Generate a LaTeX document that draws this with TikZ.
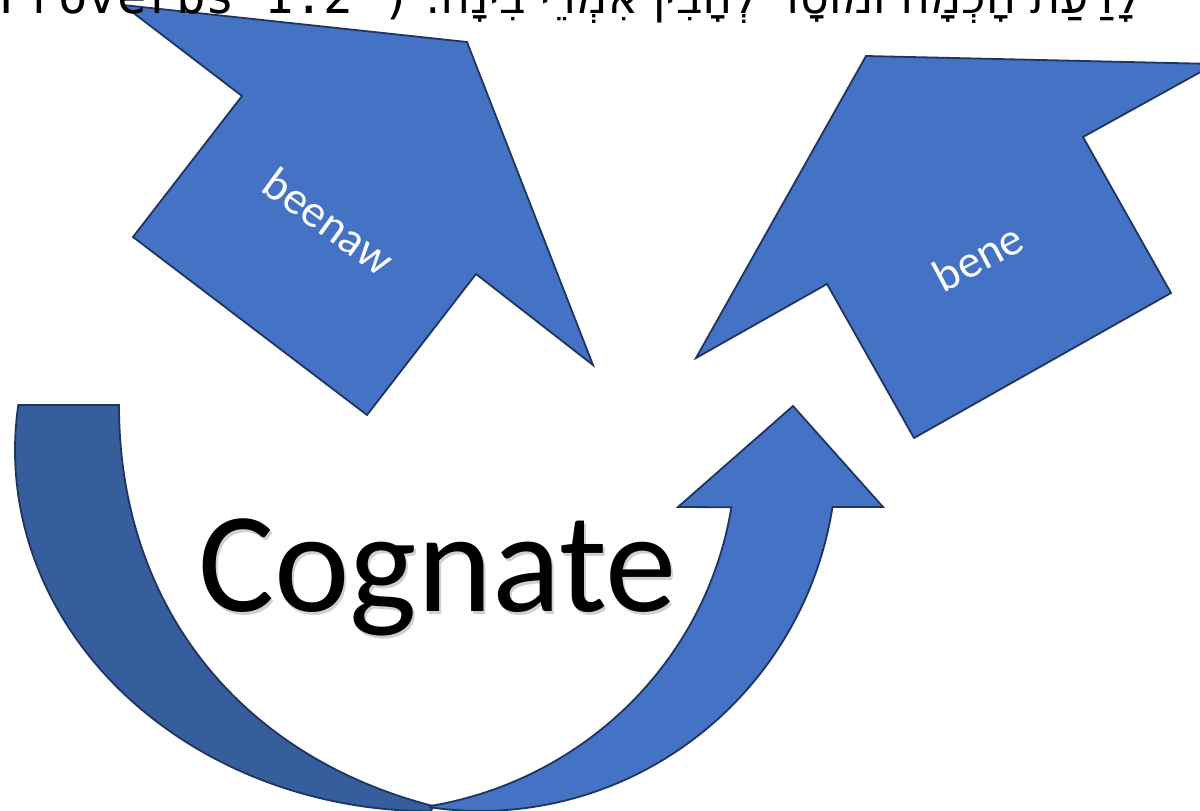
\documentclass[tikz,border=0pt]{standalone}
\usepackage{fontspec}
\setmainfont{Carlito}
\newfontfamily\monofont{DejaVu Sans Mono}
\newfontfamily\hebfont[Script=Hebrew]{DejaVu Sans}
\TeXXeTstate=1
\definecolor{front}{HTML}{4472C4}
\definecolor{back}{HTML}{365D9C}
\definecolor{edge}{HTML}{1F3560}
\begin{document}
\begin{tikzpicture}[x=1pt,y=-1pt,
  shp/.style={draw=edge,line width=1.8pt,line join=miter},
  lbl/.style={text=white,inner sep=0pt,font=\fontsize{46}{52}\selectfont}]
\useasboundingbox (0,0) rectangle (1200,811);
\fill[white] (0,0) rectangle (1200,811);
% curved up arrow: back (darker) part
\path[shp,fill=back] (119,405) -- (18.3,405)
  arc[start angle=187.2, end angle=90, x radius=416, y radius=361]
  -- (433,806) .. controls (239,756) and (119,605) .. (119,405) -- cycle;
% curved up arrow: front part with head
\path[shp,fill=front] (430,806)
  arc[start angle=80.3, end angle=9.1, x radius=368, y radius=361]
  -- (678,507) -- (793,406) -- (883,507) -- (832.5,507)
  arc[start angle=9.1, end angle=98, x radius=357, y radius=361]
  -- cycle;
% block arrow left
\path[shp,fill=front] (123,5) -- (467,42) -- (593,365) -- (476,274)
  -- (367,415) -- (133,237) -- (242,96) -- cycle;
% block arrow right
\path[shp,fill=front] (696,358) -- (866,56) -- (1215,64) -- (1083,137)
  -- (1171,293) -- (914,438) -- (827,284) -- cycle;
% labels
\node[lbl,rotate=-36] (beenaw) at (329,221) {beenaw};
\node[lbl,rotate=28] (bene) at (978,257) {bene};
\node[anchor=base west,inner sep=0pt,text=black!30,opacity=0.6,
  font=\fontsize{143}{150}\selectfont] (cogshadow) at (200,614) {Cognate};
\node[anchor=base west,inner sep=0pt,
  font=\fontsize{143}{150}\selectfont] (cognate) at (198,611) {Cognate};
% clipped verse line at the top
\node[anchor=base west,inner sep=0pt,
  font=\monofont\fontsize{49}{55}\selectfont] (ref) at (-1,13) {Proverbs 1:2 )};
\node[anchor=base west,inner sep=0pt,
  font=\hebfont\fontsize{46}{52}\selectfont] (heb) at (425,13)
  {\beginR לָדַעַת חָכְמָה וּמוּסָר לְהָבִין אִמְרֵי בִינָה:\endR};
\end{tikzpicture}
\end{document}
